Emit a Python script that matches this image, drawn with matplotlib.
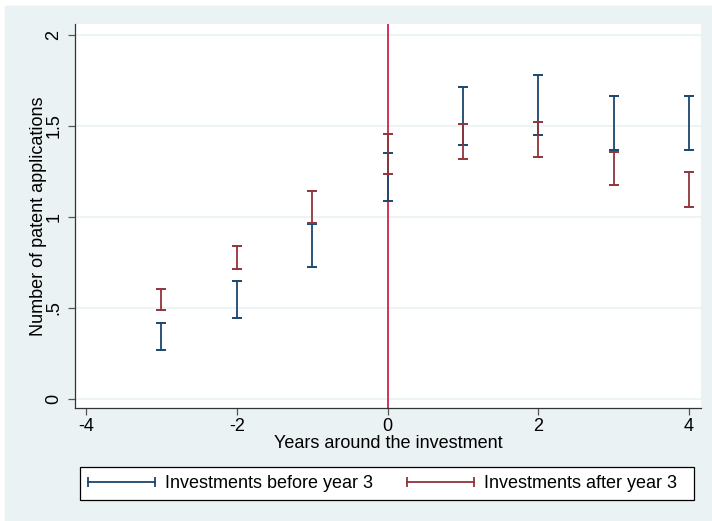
import numpy as np
import matplotlib.pyplot as plt
from matplotlib.lines import Line2D
from matplotlib.patches import Rectangle
from matplotlib.legend_handler import HandlerLine2D

plt.rcParams["font.family"] = ["Liberation Sans", "DejaVu Sans"]

years = np.array([-3, -2, -1, 0, 1, 2, 3, 4])

# 95% confidence bounds, investments before year 3
before_lo = np.array([0.266, 0.443, 0.725, 1.088, 1.392, 1.449, 1.366, 1.368])
before_hi = np.array([0.416, 0.648, 0.958, 1.348, 1.714, 1.780, 1.662, 1.665])

# 95% confidence bounds, investments after year 3
after_lo = np.array([0.489, 0.711, 0.964, 1.235, 1.315, 1.330, 1.174, 1.055])
after_hi = np.array([0.604, 0.839, 1.143, 1.456, 1.508, 1.519, 1.355, 1.245])

yticks = [0, 0.5, 1, 1.5, 2]
ytick_labels = ["0", ".5", "1", "1.5", "2"]
xticks = [-4, -2, 0, 2, 4]

navy = "#1A476F"
maroon = "#90353B"
bg = "#EAF2F3"

fig = plt.figure(figsize=(7.12, 5.21), dpi=100, facecolor="white")
# stata-like graph region, with a thin white strip on top/left
fig.patches.append(Rectangle((5 / 712, -0.01), 1.01, 1.01 - 6 / 521,
                             transform=fig.transFigure, color=bg, zorder=-10))

ax = fig.add_axes([75 / 712, 1 - 408 / 521, (700.7 - 75) / 712, (408 - 24) / 521])
ax.set_facecolor("white")

ax.axvline(0, color="#C8103C", lw=1.2, zorder=1)

for lo, hi, c in [(before_lo, before_hi, navy), (after_lo, after_hi, maroon)]:
    mid = (lo + hi) / 2
    ax.errorbar(years, mid, yerr=(hi - lo) / 2, fmt="none", ecolor=c,
                elinewidth=1.3, capsize=3.4, capthick=1.4, zorder=3)

ax.set_xlim(-4.146, 4.155)
ax.set_ylim(-0.051, 2.059)
ax.set_xticks(xticks)
ax.set_xticklabels([str(t) for t in xticks])
ax.set_yticks(yticks)
ax.set_yticklabels(ytick_labels, rotation=90, va="center")
ax.yaxis.grid(True, color=bg, lw=1.2)
ax.set_axisbelow(True)

for side in ["top", "right"]:
    ax.spines[side].set_visible(False)
for side in ["left", "bottom"]:
    ax.spines[side].set_color("#333333")
    ax.spines[side].set_linewidth(0.9)
ax.tick_params(axis="both", length=5, width=0.9, color="#555555",
               labelsize=13, labelcolor="black")
ax.tick_params(axis="x", pad=2)
ax.tick_params(axis="y", pad=4)

ax.set_xlabel("Years around the investment", fontsize=13, labelpad=0)
ax.set_ylabel("Number of patent applications", fontsize=13, labelpad=-1)

# legend box drawn by hand so its extent is fixed
fig.patches.append(Rectangle((80 / 712, 1 - 500 / 521), (694 - 80) / 712, 33 / 521,
                             transform=fig.transFigure, facecolor="white",
                             edgecolor="black", lw=0.9, zorder=5))

handles = [
    Line2D([], [], color=navy, lw=1.3, marker="|", markersize=7, markeredgewidth=1.3),
    Line2D([], [], color=maroon, lw=1.3, marker="|", markersize=7, markeredgewidth=1.3),
]
leg = fig.legend(handles, ["Investments before year 3", "Investments after year 3"],
                 loc="center left", ncol=2, numpoints=2, fontsize=13,
                 bbox_to_anchor=(88 / 712, 1 - 483.5 / 521),
                 borderaxespad=0, borderpad=0, handlelength=3.7,
                 handletextpad=0.55, columnspacing=1.9, frameon=False,
                 handler_map={Line2D: HandlerLine2D(marker_pad=0)})
leg.set_zorder(6)

fig.savefig("out.png", dpi=100, facecolor=fig.get_facecolor())
